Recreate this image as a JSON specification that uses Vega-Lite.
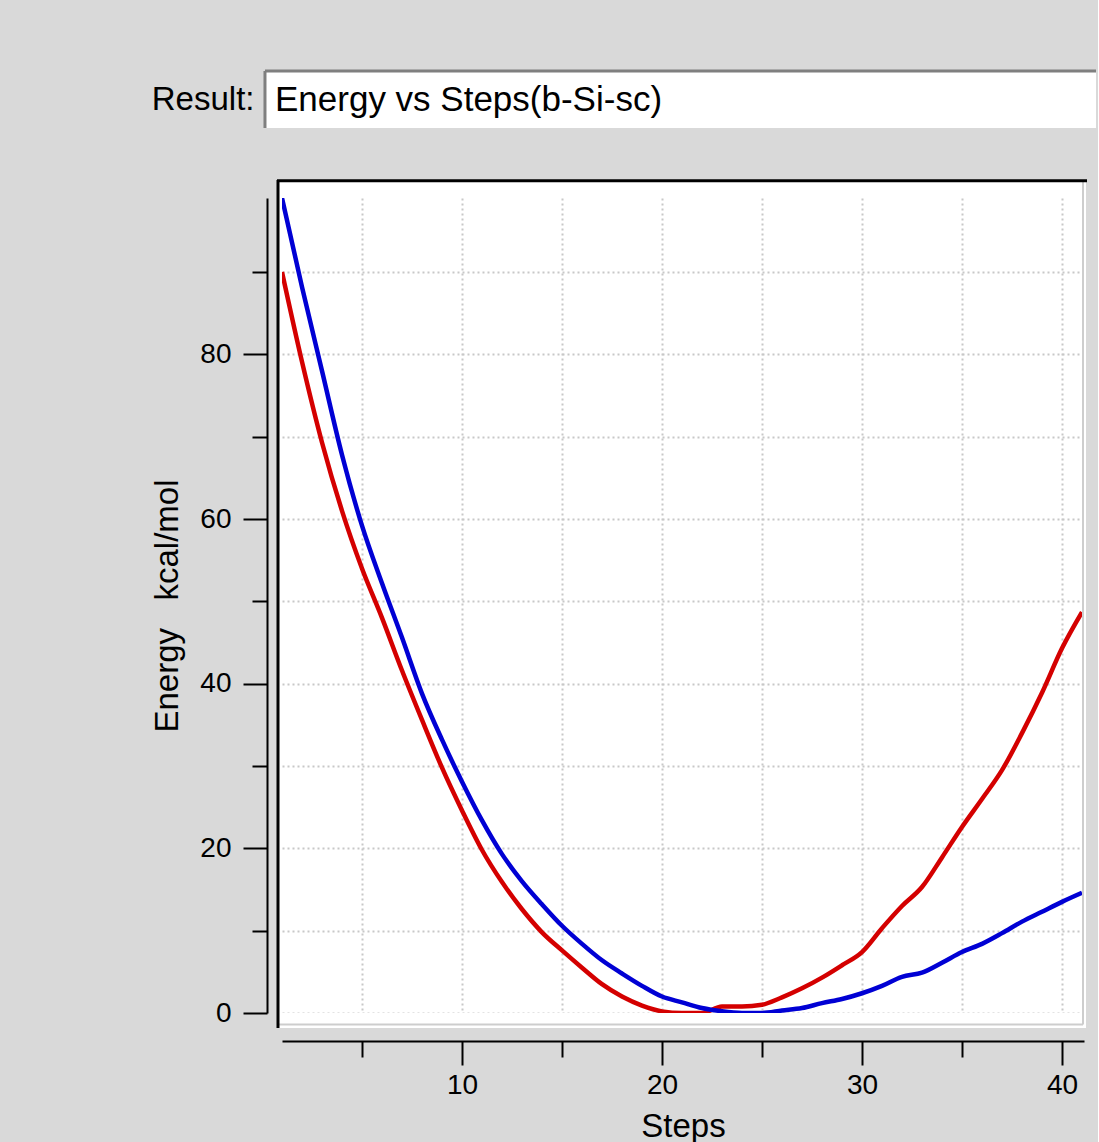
{
  "$schema": "https://vega.github.io/schema/vega-lite/v6.json",
  "background": "#d9d9d9",
  "padding": {"left": 151, "top": 69, "right": 0, "bottom": 0},
  "config": {"font": "Liberation Sans", "view": {"stroke": null}},
  "columns": 1,
  "spacing": 48,
  "concat": [
    {
      "width": 814,
      "height": 57,
      "view": {"fill": "#ffffff", "stroke": null},
      "data": {"values": [{"label": "Energy vs Steps(b-Si-sc)"}]},
      "layer": [
        {
          "mark": {"type": "rect", "color": "#ffffff"},
          "encoding": {
            "x": {"datum": -0.0209, "type": "quantitative", "scale": {"domain": [0, 1], "nice": false, "zero": false}, "axis": null},
            "x2": {"datum": 0},
            "y": {"datum": 0, "type": "quantitative", "scale": {"domain": [0, 1], "nice": false, "zero": false},
              "axis": {"values": [0.5], "labelExpr": "'Result:'", "ticks": false, "tickSize": 0, "domain": false, "grid": false, "title": null, "labelFontSize": 33, "labelColor": "#000000", "labelPadding": 28, "labelFont": "Liberation Sans"}},
            "y2": {"datum": 1}
          }
        },
        {
          "mark": {"type": "rule", "color": "#7f7f7f", "strokeWidth": 3},
          "encoding": {
            "x": {"datum": -0.0209, "type": "quantitative"},
            "x2": {"datum": 1},
            "y": {"datum": 1, "type": "quantitative"}
          }
        },
        {
          "mark": {"type": "rule", "color": "#7f7f7f", "strokeWidth": 3},
          "encoding": {
            "x": {"datum": -0.0209, "type": "quantitative"},
            "y": {"datum": 0, "type": "quantitative"},
            "y2": {"datum": 1}
          }
        },
        {
          "mark": {"type": "text", "align": "left", "baseline": "middle", "dx": 10, "fontSize": 35, "color": "#000000", "font": "Liberation Sans"},
          "encoding": {
            "x": {"datum": -0.0209, "type": "quantitative"},
            "y": {"datum": 0.5, "type": "quantitative"},
            "text": {"field": "label"}
          }
        }
      ]
    },
    {
      "width": 802,
      "height": 815,
      "view": {"fill": "#ffffff", "stroke": null},
      "data": {"values": [
        {"step": 1, "energy": 90.0, "series": "Series 1"},
        {"step": 2, "energy": 79.1, "series": "Series 1"},
        {"step": 3, "energy": 69.3, "series": "Series 1"},
        {"step": 4, "energy": 61.0, "series": "Series 1"},
        {"step": 5, "energy": 54.0, "series": "Series 1"},
        {"step": 6, "energy": 48.0, "series": "Series 1"},
        {"step": 7, "energy": 41.6, "series": "Series 1"},
        {"step": 8, "energy": 35.6, "series": "Series 1"},
        {"step": 9, "energy": 29.8, "series": "Series 1"},
        {"step": 10, "energy": 24.6, "series": "Series 1"},
        {"step": 11, "energy": 19.8, "series": "Series 1"},
        {"step": 12, "energy": 15.9, "series": "Series 1"},
        {"step": 13, "energy": 12.6, "series": "Series 1"},
        {"step": 14, "energy": 9.8, "series": "Series 1"},
        {"step": 15, "energy": 7.6, "series": "Series 1"},
        {"step": 16, "energy": 5.5, "series": "Series 1"},
        {"step": 17, "energy": 3.5, "series": "Series 1"},
        {"step": 18, "energy": 2.0, "series": "Series 1"},
        {"step": 19, "energy": 0.9, "series": "Series 1"},
        {"step": 20, "energy": 0.2, "series": "Series 1"},
        {"step": 21, "energy": 0.0, "series": "Series 1"},
        {"step": 22, "energy": 0.0, "series": "Series 1"},
        {"step": 23, "energy": 0.8, "series": "Series 1"},
        {"step": 24, "energy": 0.8, "series": "Series 1"},
        {"step": 25, "energy": 1.0, "series": "Series 1"},
        {"step": 26, "energy": 1.9, "series": "Series 1"},
        {"step": 27, "energy": 3.0, "series": "Series 1"},
        {"step": 28, "energy": 4.3, "series": "Series 1"},
        {"step": 29, "energy": 5.8, "series": "Series 1"},
        {"step": 30, "energy": 7.4, "series": "Series 1"},
        {"step": 31, "energy": 10.3, "series": "Series 1"},
        {"step": 32, "energy": 13.0, "series": "Series 1"},
        {"step": 33, "energy": 15.3, "series": "Series 1"},
        {"step": 34, "energy": 18.9, "series": "Series 1"},
        {"step": 35, "energy": 22.6, "series": "Series 1"},
        {"step": 36, "energy": 26.0, "series": "Series 1"},
        {"step": 37, "energy": 29.5, "series": "Series 1"},
        {"step": 38, "energy": 34.0, "series": "Series 1"},
        {"step": 39, "energy": 38.9, "series": "Series 1"},
        {"step": 40, "energy": 44.3, "series": "Series 1"},
        {"step": 41, "energy": 48.7, "series": "Series 1"},
        {"step": 1, "energy": 99.0, "series": "Series 2"},
        {"step": 2, "energy": 88.2, "series": "Series 2"},
        {"step": 3, "energy": 78.0, "series": "Series 2"},
        {"step": 4, "energy": 67.8, "series": "Series 2"},
        {"step": 5, "energy": 59.2, "series": "Series 2"},
        {"step": 6, "energy": 52.2, "series": "Series 2"},
        {"step": 7, "energy": 45.6, "series": "Series 2"},
        {"step": 8, "energy": 38.8, "series": "Series 2"},
        {"step": 9, "energy": 33.2, "series": "Series 2"},
        {"step": 10, "energy": 28.1, "series": "Series 2"},
        {"step": 11, "energy": 23.4, "series": "Series 2"},
        {"step": 12, "energy": 19.3, "series": "Series 2"},
        {"step": 13, "energy": 16.0, "series": "Series 2"},
        {"step": 14, "energy": 13.2, "series": "Series 2"},
        {"step": 15, "energy": 10.6, "series": "Series 2"},
        {"step": 16, "energy": 8.4, "series": "Series 2"},
        {"step": 17, "energy": 6.4, "series": "Series 2"},
        {"step": 18, "energy": 4.8, "series": "Series 2"},
        {"step": 19, "energy": 3.3, "series": "Series 2"},
        {"step": 20, "energy": 2.0, "series": "Series 2"},
        {"step": 21, "energy": 1.3, "series": "Series 2"},
        {"step": 22, "energy": 0.6, "series": "Series 2"},
        {"step": 23, "energy": 0.2, "series": "Series 2"},
        {"step": 24, "energy": 0.0, "series": "Series 2"},
        {"step": 25, "energy": 0.0, "series": "Series 2"},
        {"step": 26, "energy": 0.3, "series": "Series 2"},
        {"step": 27, "energy": 0.6, "series": "Series 2"},
        {"step": 28, "energy": 1.2, "series": "Series 2"},
        {"step": 29, "energy": 1.7, "series": "Series 2"},
        {"step": 30, "energy": 2.4, "series": "Series 2"},
        {"step": 31, "energy": 3.3, "series": "Series 2"},
        {"step": 32, "energy": 4.4, "series": "Series 2"},
        {"step": 33, "energy": 4.9, "series": "Series 2"},
        {"step": 34, "energy": 6.1, "series": "Series 2"},
        {"step": 35, "energy": 7.4, "series": "Series 2"},
        {"step": 36, "energy": 8.4, "series": "Series 2"},
        {"step": 37, "energy": 9.7, "series": "Series 2"},
        {"step": 38, "energy": 11.1, "series": "Series 2"},
        {"step": 39, "energy": 12.3, "series": "Series 2"},
        {"step": 40, "energy": 13.5, "series": "Series 2"},
        {"step": 41, "energy": 14.6, "series": "Series 2"}
      ]},
      "layer": [
        {
          "mark": {"type": "line", "strokeWidth": 4.5, "interpolate": "monotone"},
          "encoding": {
            "x": {"field": "step", "type": "quantitative",
              "scale": {"domain": [1, 41.1], "nice": false, "zero": false},
              "axis": {"title": "Steps", "orient": "bottom", "offset": 28,
                "values": [5, 10, 15, 20, 25, 30, 35, 40],
                "labelExpr": "datum.value % 10 === 0 ? datum.label : ''",
                "domainColor": "#000000", "domainWidth": 2,
                "tickColor": "#000000", "tickWidth": 2,
                "tickSize": {"condition": {"test": "datum.value % 10 === 0", "value": 24}, "value": 16},
                "labelFontSize": 28, "labelColor": "#000000", "labelPadding": 6, "labelFont": "Liberation Sans",
                "labelFlush": false, "labelOverlap": false,
                "titleFontSize": 33, "titleFontWeight": "normal", "titleColor": "#000000", "titlePadding": 11, "titleFont": "Liberation Sans",
                "grid": true, "gridColor": "#c8c8c8", "gridDash": [2, 3], "gridWidth": 2}},
            "y": {"field": "energy", "type": "quantitative",
              "scale": {"domain": [0, 99], "nice": false, "zero": false},
              "axis": {"title": "Energy\u00a0\u00a0 kcal/mol", "offset": 15,
                "values": [0, 10, 20, 30, 40, 50, 60, 70, 80, 90],
                "labelExpr": "datum.value % 20 === 0 ? datum.label : ''",
                "domainColor": "#000000", "domainWidth": 2,
                "tickColor": "#000000", "tickWidth": 2,
                "tickSize": {"condition": {"test": "datum.value % 20 === 0", "value": 24}, "value": 15},
                "labelFontSize": 28, "labelColor": "#000000", "labelPadding": 12, "labelFont": "Liberation Sans",
                "labelFlush": false, "labelOverlap": false,
                "titleFontSize": 33, "titleFontWeight": "normal", "titleColor": "#000000", "titlePadding": 15, "titleFont": "Liberation Sans",
                "grid": true, "gridColor": "#c8c8c8", "gridDash": [2, 3], "gridWidth": 2}},
            "color": {"field": "series", "type": "nominal",
              "scale": {"domain": ["Series 1", "Series 2"], "range": ["#d40000", "#0000d4"]},
              "legend": null}
          }
        },
        {
          "data": {"values": [{}]},
          "mark": {"type": "rect", "color": "#ffffff"},
          "encoding": {"x": {"datum": 0.85, "type": "quantitative"}, "x2": {"datum": 41.2}, "y": {"datum": 99, "type": "quantitative"}, "y2": {"datum": 101.1}}
        },
        {
          "data": {"values": [{}]},
          "mark": {"type": "rect", "color": "#ffffff"},
          "encoding": {"x": {"datum": 0.85, "type": "quantitative"}, "x2": {"datum": 41.2}, "y": {"datum": -1.82, "type": "quantitative"}, "y2": {"datum": 0}}
        },
        {
          "data": {"values": [{}]},
          "mark": {"type": "rect", "color": "#ffffff"},
          "encoding": {"x": {"datum": 0.85, "type": "quantitative"}, "x2": {"datum": 1}, "y": {"datum": 0, "type": "quantitative"}, "y2": {"datum": 99}}
        },
        {
          "data": {"values": [{}]},
          "mark": {"type": "rect", "color": "#ffffff"},
          "encoding": {"x": {"datum": 41.1, "type": "quantitative"}, "x2": {"datum": 41.2}, "y": {"datum": 0, "type": "quantitative"}, "y2": {"datum": 99}}
        },
        {
          "data": {"values": [{}]},
          "mark": {"type": "rule", "color": "#cdcdcd", "strokeWidth": 2},
          "encoding": {"x": {"datum": 41.05, "type": "quantitative"}, "y": {"datum": -1.4, "type": "quantitative"}, "y2": {"datum": 101.1}}
        },
        {
          "data": {"values": [{}]},
          "mark": {"type": "rule", "color": "#cdcdcd", "strokeWidth": 2},
          "encoding": {"x": {"datum": 0.85, "type": "quantitative"}, "x2": {"datum": 41.05}, "y": {"datum": -1.4, "type": "quantitative"}}
        },
        {
          "data": {"values": [{}]},
          "mark": {"type": "rule", "color": "#000000", "strokeWidth": 3},
          "encoding": {"x": {"datum": 0.75, "type": "quantitative"}, "x2": {"datum": 41.25}, "y": {"datum": 101.1, "type": "quantitative"}}
        },
        {
          "data": {"values": [{}]},
          "mark": {"type": "rule", "color": "#000000", "strokeWidth": 3},
          "encoding": {"x": {"datum": 0.8, "type": "quantitative"}, "y": {"datum": -1.82, "type": "quantitative"}, "y2": {"datum": 101.2}}
        }
      ]
    }
  ]
}
